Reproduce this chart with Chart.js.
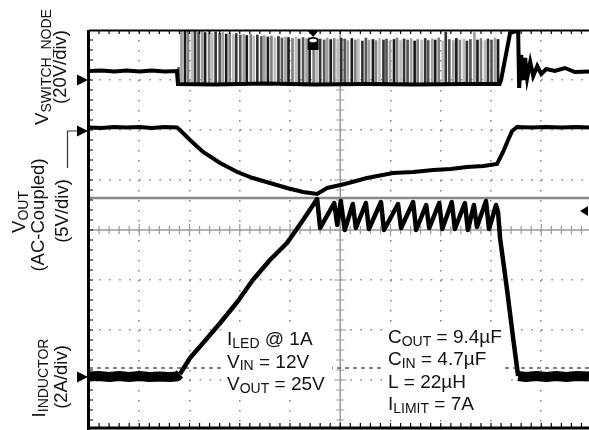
<!DOCTYPE html>
<html>
<head>
<meta charset="utf-8">
<script src="https://cdn.jsdelivr.net/npm/chart.js@4.4.0/dist/chart.umd.min.js"></script>
<style>
  html, body { margin: 0; padding: 0; background: #fff; overflow: hidden; }
</style>
</head>
<body>
<canvas id="scope" width="589" height="430"></canvas>
<script>
// all values in screen divisions: x 0..10 (time), y -4..4
const swTime  = [0, 0.25, 0.5, 0.75, 1.0, 1.25, 1.5, 1.75, 1.77, 2.5, 3.5, 4.5, 5.5, 6.5, 7.5, 8.17, 8.2, 8.38, 8.5, 8.54, 8.56, 8.6, 8.64, 8.68, 8.72, 8.78, 8.84, 8.92, 9.0, 9.1, 9.27, 9.47, 9.67, 9.95];
const swLevel = [3.18, 3.19, 3.17, 3.19, 3.17, 3.19, 3.17, 3.18, 2.92, 2.91, 2.93, 2.91, 2.92, 2.91, 2.92, 2.92, 3.0, 3.94, 3.98, 3.98, 2.84, 3.5, 3.0, 3.44, 3.04, 3.36, 3.08, 3.28, 3.12, 3.22, 3.18, 3.24, 3.16, 3.17];

const pulseBase = 2.92;
const pulseTime = [1.78, 1.84, 1.91, 1.97, 2.05, 2.11, 2.18, 2.25, 2.31, 2.39,
  2.45, 2.52, 2.60, 2.66, 2.73, 2.80, 2.87, 2.93, 3.01, 3.08,
  3.14, 3.22, 3.28, 3.35, 3.43, 3.49, 3.56, 3.63, 3.70, 3.77,
  3.84, 3.91, 3.97, 4.05, 4.12, 4.18, 4.26, 4.33, 4.39, 4.47,
  4.53, 4.60, 4.68, 4.74, 4.81, 4.88, 4.95, 5.02, 5.09, 5.15,
  5.23, 5.30, 5.36, 5.44, 5.51, 5.57, 5.65, 5.71, 5.78, 5.86,
  5.92, 5.99, 6.07, 6.13, 6.20, 6.27, 6.34, 6.41, 6.48, 6.54,
  6.62, 6.69, 6.75, 6.83, 6.89, 6.96, 7.04, 7.10, 7.17, 7.25,
  7.31, 7.38, 7.46, 7.52, 7.59, 7.67, 7.73, 7.80, 7.88, 7.94,
  8.01, 8.08, 8.14];
const pulseTop = [3.25, 4.0, 3.98, 4.0, 3.97, 4.0, 3.96, 3.98, 3.95, 3.97,
  3.94, 3.96, 3.93, 3.95, 3.92, 3.94, 3.91, 3.93, 3.9, 3.92,
  3.89, 3.91, 3.88, 3.9, 3.87, 3.89, 3.86, 3.88, 3.85, 3.87,
  3.84, 3.86, 3.85, 3.83, 3.86, 3.82, 3.85, 3.83, 3.84, 3.81,
  3.85, 3.82, 3.8, 3.84, 3.81, 3.83, 3.8, 3.84, 3.82, 3.79,
  3.83, 3.8, 3.82, 3.78, 3.84, 3.8, 3.81, 3.79, 3.83, 3.8,
  3.82, 3.78, 3.81, 3.84, 3.79, 3.82, 3.8, 3.83, 3.78, 3.81,
  3.8, 3.83, 3.79, 3.82, 3.8, 3.84, 3.78, 3.96, 3.81, 3.79,
  3.83, 3.8, 3.82, 3.78, 3.81, 3.95, 3.8, 3.83, 3.79, 3.82,
  3.8, 3.84, 3.81];

const voutTime  = [0, 0.25, 0.5, 0.75, 1.0, 1.25, 1.5, 1.75, 1.81, 2.01, 2.27, 2.61, 2.95, 3.26, 3.6, 3.94, 4.26, 4.54, 4.74, 5.09, 5.53, 6.05, 6.45, 6.85, 7.2, 7.52, 7.85, 8.12, 8.24, 8.34, 8.42, 8.52, 8.8, 9.1, 9.4, 9.7, 9.95];
const voutLevel = [2.05, 2.04, 2.06, 2.05, 2.06, 2.04, 2.06, 2.05, 2.0, 1.8, 1.56, 1.34, 1.16, 1.04, 0.94, 0.84, 0.76, 0.72, 0.84, 0.92, 1.04, 1.14, 1.16, 1.2, 1.22, 1.26, 1.28, 1.32, 1.56, 1.8, 1.98, 2.06, 2.05, 2.06, 2.05, 2.06, 2.05];

const ilTime  = [0, 0.2, 0.4, 0.6, 0.8, 1.0, 1.2, 1.4, 1.6, 1.75, 1.81, 2.01, 2.27, 2.61, 2.95, 3.26, 3.6, 3.94, 4.26, 4.54,
  4.6, 4.88, 4.94, 5.01, 5.09, 5.25, 5.31, 5.51, 5.57, 5.81, 5.87, 6.15, 6.21, 6.45, 6.51, 6.71, 6.77, 6.97, 7.03, 7.22, 7.28, 7.48, 7.54, 7.66, 7.72, 7.9, 7.96, 8.1,
  8.14, 8.18, 8.32, 8.44, 8.54, 8.7, 8.9, 9.1, 9.3, 9.5, 9.7, 9.95];
const ilLevel = [-2.93, -2.92, -2.94, -2.92, -2.94, -2.92, -2.94, -2.93, -2.94, -2.93, -2.88, -2.56, -2.26, -1.86, -1.44, -1.0, -0.6, -0.26, 0.2, 0.62,
  0.04, 0.54, 0.1, 0.58, 0.0, 0.52, 0.04, 0.54, 0.02, 0.56, 0.0, 0.52, 0.04, 0.56, 0.0, 0.5, 0.04, 0.54, 0.02, 0.56, 0.02, 0.54, 0.0, 0.5, 0.06, 0.58, 0.02, 0.5,
  0.36, -0.16, -1.2, -2.16, -2.92, -2.94, -2.92, -2.94, -2.92, -2.94, -2.92, -2.93];

// reference levels / markers (divisions)
const groundMarks = [3.0, 1.98, -2.94];
const cursorLevel = 0.64;
const iRefLevel = -2.76;
const trigLevel = 0.38;
const trigTime = 4.46;

const leftNotes = [
  [['I'], ['LED', 1], [' @ 1A']],
  [['V'], ['IN', 1], [' = 12V']],
  [['V'], ['OUT', 1], [' = 25V']]
];
const rightNotes = [
  [['C'], ['OUT', 1], [' = 9.4µF']],
  [['C'], ['IN', 1], [' = 4.7µF']],
  [['L = 22µH']],
  [['I'], ['LIMIT', 1], [' = 7A']]
];
const sideLabels = [
  { parts: [['V'], ['SWITCH_NODE', 1]], bx: 48, cy: 67 },
  { parts: [['(20V/div)']], bx: 66, cy: 67 },
  { parts: [['V'], ['OUT', 1]], bx: 25, cy: 212 },
  { parts: [['(AC-Coupled)']], bx: 44, cy: 215 },
  { parts: [['(5V/div)']], bx: 68, cy: 211 },
  { parts: [['I'], ['INDUCTOR', 1]], bx: 45, cy: 378 },
  { parts: [['(2A/div)']], bx: 67, cy: 377 }
];

const pair = (t, v) => t.map((x, i) => ({ x: x, y: v[i] }));
const FONT = '"Liberation Sans", Arial, sans-serif';

function rich(ctx, parts, x, y, size, sub, align) {
  let w = 0;
  parts.forEach(p => { ctx.font = (p[1] ? sub : size) + 'px ' + FONT; w += ctx.measureText(p[0]).width; });
  let cur = align === 'center' ? x - w / 2 : x;
  ctx.textAlign = 'left';
  ctx.textBaseline = 'alphabetic';
  parts.forEach(p => {
    ctx.font = (p[1] ? sub : size) + 'px ' + FONT;
    ctx.fillText(p[0], cur, y + (p[1] ? 2.5 : 0));
    cur += ctx.measureText(p[0]).width;
  });
}

const scopeDecor = {
  id: 'scopeDecor',
  beforeDatasetsDraw(chart) {
    const { ctx, chartArea: a, scales: { x, y } } = chart;
    const cx = x.getPixelForValue(5), cy = y.getPixelForValue(0);
    ctx.save();
    ctx.strokeStyle = '#9a9a9a';
    ctx.lineWidth = 1.5;
    ctx.beginPath();
    ctx.moveTo(a.left, cy); ctx.lineTo(a.right, cy);
    ctx.moveTo(cx, a.top); ctx.lineTo(cx, a.bottom);
    ctx.stroke();
    ctx.lineWidth = 1.2;
    ctx.beginPath();
    for (let i = 1; i < 50; i++) {
      const px = x.getPixelForValue(i / 5), h = i % 5 === 0 ? 6 : 4;
      ctx.moveTo(px, cy - h); ctx.lineTo(px, cy + h);
    }
    for (let i = -19; i < 20; i++) {
      const py = y.getPixelForValue(i / 5), h = i % 5 === 0 ? 6 : 4;
      ctx.moveTo(cx - h, py); ctx.lineTo(cx + h, py);
    }
    ctx.stroke();
    // cursor line
    const yc = y.getPixelForValue(cursorLevel);
    ctx.strokeStyle = '#8a8a8a';
    ctx.lineWidth = 2.5;
    ctx.beginPath(); ctx.moveTo(a.left, yc); ctx.lineTo(a.right, yc); ctx.stroke();
    // inductor reference dashes
    const yr = y.getPixelForValue(iRefLevel);
    ctx.strokeStyle = '#444';
    ctx.lineWidth = 1.3;
    ctx.setLineDash([4, 4]);
    ctx.beginPath(); ctx.moveTo(a.left, yr); ctx.lineTo(a.right, yr); ctx.stroke();
    ctx.restore();
  },
  afterDatasetsDraw(chart) {
    const { ctx, chartArea: a, scales: { x, y } } = chart;
    ctx.save();
    // frame
    ctx.strokeStyle = '#000';
    ctx.lineWidth = 2;
    ctx.beginPath(); ctx.moveTo(a.left, a.top + 0.5); ctx.lineTo(a.right, a.top + 0.5); ctx.stroke();
    ctx.lineWidth = 3;
    ctx.beginPath(); ctx.moveTo(a.left - 0.5, a.top); ctx.lineTo(a.left - 0.5, a.bottom); ctx.stroke();
    ctx.beginPath(); ctx.moveTo(a.left, a.bottom - 2); ctx.lineTo(a.right, a.bottom - 2); ctx.stroke();
    ctx.lineWidth = 1.2;
    ctx.beginPath();
    for (let i = 1; i < 50; i++) {
      const px = x.getPixelForValue(i / 5);
      ctx.moveTo(px, a.top); ctx.lineTo(px, a.top + 4);
      ctx.moveTo(px, a.bottom - 3); ctx.lineTo(px, a.bottom - 7);
    }
    for (let i = -19; i < 20; i++) {
      const py = y.getPixelForValue(i / 5);
      ctx.moveTo(a.left, py); ctx.lineTo(a.left + 4, py);
    }
    ctx.stroke();

    // channel ground arrows
    ctx.fillStyle = '#000';
    groundMarks.forEach(v => {
      const py = y.getPixelForValue(v);
      ctx.beginPath();
      ctx.moveTo(a.left - 1, py); ctx.lineTo(a.left - 12, py - 5.5); ctx.lineTo(a.left - 12, py + 5.5);
      ctx.closePath(); ctx.fill();
    });
    const pv = y.getPixelForValue(groundMarks[1]);
    ctx.strokeStyle = '#333';
    ctx.lineWidth = 1.2;
    ctx.beginPath();
    ctx.moveTo(a.left - 12, pv); ctx.lineTo(67.5, pv); ctx.lineTo(67.5, pv + 37);
    ctx.stroke();

    // trigger position marker and trigger level arrow
    const tx = x.getPixelForValue(trigTime);
    ctx.beginPath();
    ctx.moveTo(tx - 6, a.top); ctx.lineTo(tx + 6, a.top); ctx.lineTo(tx, a.top + 7);
    ctx.closePath(); ctx.fill();
    ctx.beginPath();
    ctx.moveTo(tx - 5.5, 39); ctx.quadraticCurveTo(tx, 35, tx + 5.5, 39);
    ctx.lineTo(tx + 5.5, 50); ctx.lineTo(tx - 5.5, 50); ctx.closePath(); ctx.fill();
    ctx.fillStyle = '#fff';
    ctx.beginPath(); ctx.ellipse(tx, 40.5, 3.8, 1.8, 0, 0, Math.PI * 2); ctx.fill();
    ctx.fillStyle = '#000';
    const ty = y.getPixelForValue(trigLevel);
    ctx.beginPath();
    ctx.moveTo(a.right - 9, ty); ctx.lineTo(a.right - 1, ty - 5); ctx.lineTo(a.right - 1, ty + 5);
    ctx.closePath(); ctx.fill();

    // annotation boxes
    ctx.fillStyle = '#fff';
    ctx.fillRect(222, 326, 110, 70);
    ctx.fillRect(383, 325, 120, 92);
    ctx.fillStyle = '#111';
    leftNotes.forEach((n, i) => rich(ctx, n, 227, 345 + i * 22.5, 19, 14, 'left'));
    rightNotes.forEach((n, i) => rich(ctx, n, 388, 343 + i * 22.4, 19, 14, 'left'));

    // rotated channel labels
    sideLabels.forEach(l => {
      ctx.save();
      ctx.translate(l.bx, l.cy);
      ctx.rotate(-Math.PI / 2);
      rich(ctx, l.parts, 0, 0, 18.5, 14, 'center');
      ctx.restore();
    });
    ctx.restore();
  }
};

const pulseShades = ['#555', '#a0a0a0', '#1a1a1a', '#808080', '#bbb', '#333'];

new Chart(document.getElementById('scope'), {
  type: 'line',
  data: {
    datasets: [
      {
        label: 'VOUT',
        data: pair(voutTime, voutLevel),
        borderColor: '#000',
        borderWidth: 4,
        order: 1
      },
      {
        label: 'IINDUCTOR',
        data: pair(ilTime, ilLevel),
        borderColor: '#000',
        borderWidth: 4.5,
        borderJoinStyle: 'round',
        segment: {
          borderWidth: c => (c.p0.parsed.y < -2.8 && c.p1.parsed.y < -2.8) ? 10 : 4.5
        },
        order: 2
      },
      {
        label: 'VSWITCH_NODE',
        data: pair(swTime, swLevel),
        borderColor: '#000',
        borderWidth: 4,
        order: 3
      },
      {
        type: 'bar',
        label: 'switching',
        data: pulseTime.map((t, i) => ({ x: t, y: [pulseBase, pulseTop[i]] })),
        backgroundColor: c => pulseShades[c.dataIndex % pulseShades.length],
        borderWidth: 0,
        barThickness: 2,
        grouped: false,
        order: 4
      }
    ]
  },
  options: {
    responsive: false,
    animation: false,
    layout: { padding: { left: 89, top: 30, right: 0, bottom: 0 } },
    elements: { point: { radius: 0 }, line: { tension: 0 } },
    plugins: { legend: { display: false }, tooltip: { enabled: false } },
    scales: {
      x: {
        type: 'linear', min: 0, max: 9.95, offset: false,
        afterFit: s => { s.height = 0; },
        ticks: { display: false, stepSize: 1, includeBounds: false },
        grid: {
          offset: false, drawTicks: false, lineWidth: 1.6,
          color: c => (c.tick.value === 0 || c.tick.value === 5) ? 'rgba(0,0,0,0)' : '#8a8a8a'
        },
        border: { display: false, dash: [1.6, 8.4] }
      },
      y: {
        type: 'linear', min: -4, max: 4,
        afterFit: s => { s.width = 0; },
        ticks: { display: false, stepSize: 1 },
        grid: {
          drawTicks: false, lineWidth: 1.6,
          color: c => (Math.abs(c.tick.value) === 4 || c.tick.value === 0) ? 'rgba(0,0,0,0)' : '#8a8a8a'
        },
        border: { display: false, dash: [1.6, 8.45] }
      }
    }
  },
  plugins: [scopeDecor]
});
</script>
</body>
</html>
